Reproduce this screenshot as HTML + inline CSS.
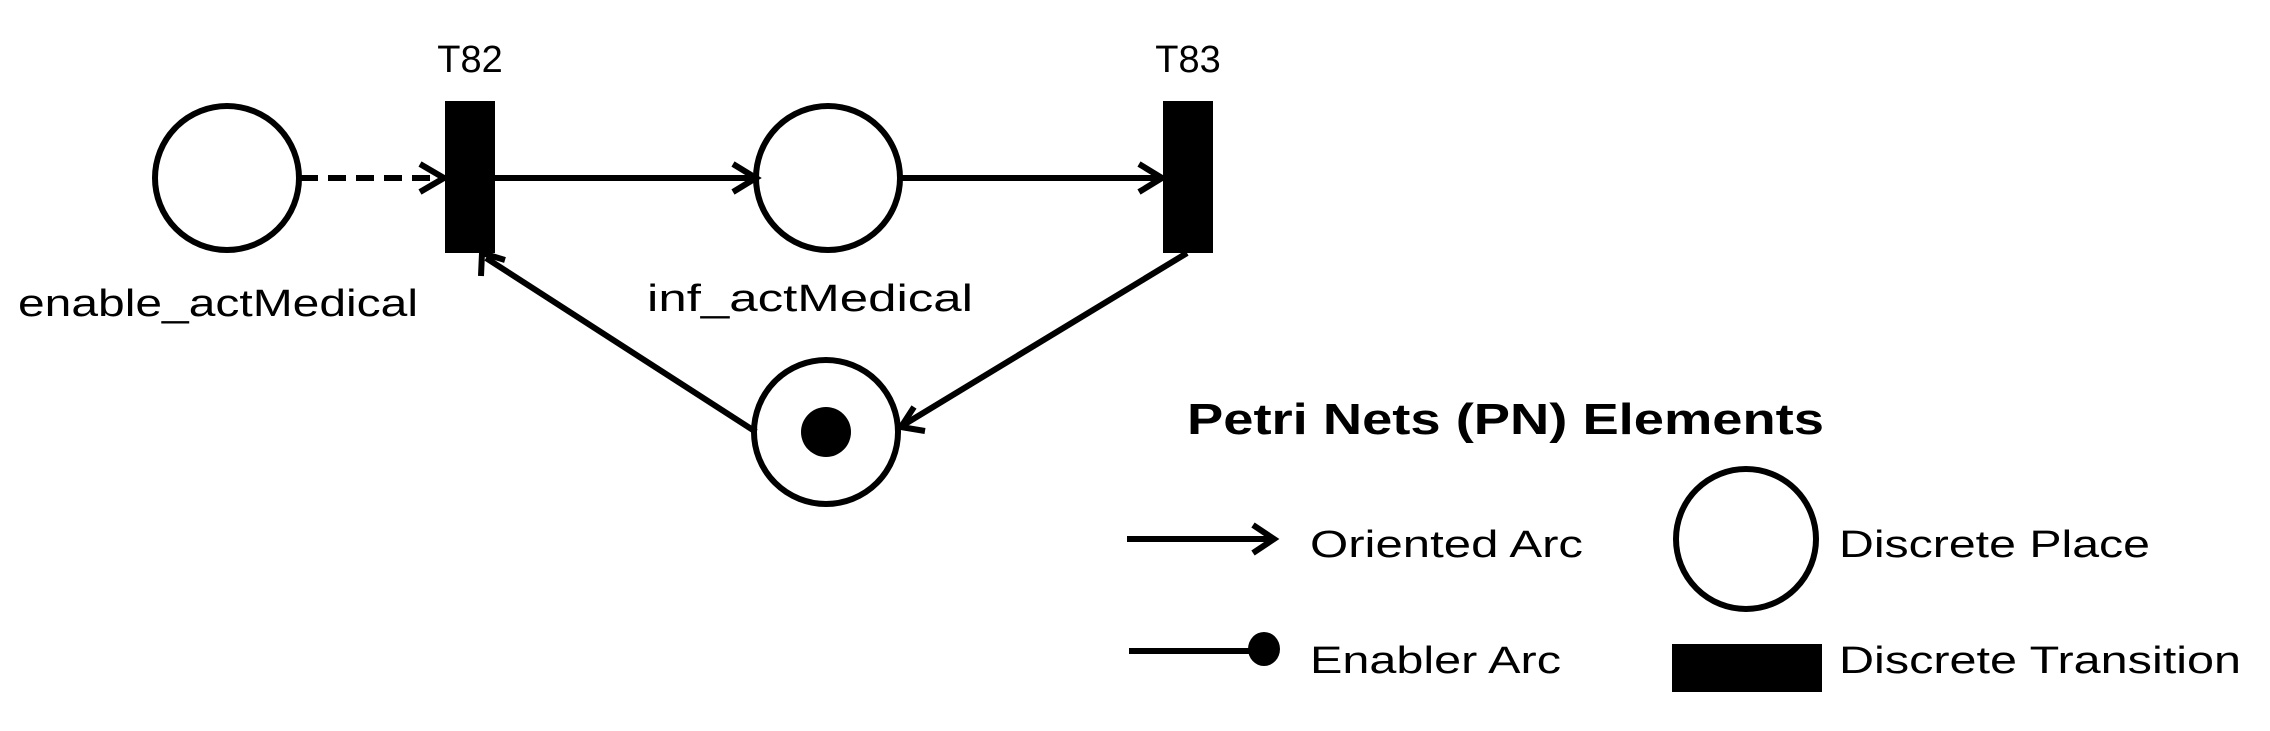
<!DOCTYPE html>
<html><head><style>html,body{margin:0;padding:0;background:#fff}svg{display:block}</style></head>
<body>
<svg width="2270" height="731" viewBox="0 0 2270 731" xmlns="http://www.w3.org/2000/svg" font-family="Liberation Sans, sans-serif">
<defs>
<marker id="a" markerWidth="12" markerHeight="12" refX="10" refY="6" orient="auto" markerUnits="userSpaceOnUse">
</marker>
</defs>
<g stroke="#000" stroke-width="6" fill="none">
<circle cx="227" cy="178" r="72"/>
<circle cx="828" cy="178" r="72"/>
<circle cx="826" cy="432" r="72"/>
<circle cx="1746" cy="539" r="70"/>
<line x1="300" y1="178" x2="440" y2="178" stroke-dasharray="18,10"/>
<line x1="495" y1="178" x2="752" y2="178"/>
<line x1="900" y1="178" x2="1158" y2="178"/>
<line x1="1187" y1="253" x2="905" y2="424"/>
<line x1="756" y1="432" x2="486" y2="258"/>
<line x1="1127" y1="539" x2="1272" y2="539"/>
<line x1="1129" y1="651" x2="1255" y2="651"/>
<!-- arrowheads -->
<polyline points="420,164 444,178 420,192"/>
<polyline points="733,164 756,178 733,192"/>
<polyline points="1139,164 1162,178 1139,192"/>
<polyline points="914,407 901,427 925,431"/>
<polyline points="481,276 482,253 505,260"/>
<polyline points="1253,525 1274,539 1253,553"/>
</g>
<rect x="445" y="101" width="50" height="152" fill="#000"/>
<rect x="1163" y="101" width="50" height="152" fill="#000"/>
<rect x="1672" y="644" width="150" height="48" fill="#000"/>
<circle cx="826" cy="432" r="25" fill="#000"/>
<ellipse cx="1264" cy="649" rx="16" ry="17" fill="#000"/>
<g font-size="38" fill="#000">
<text x="470" y="72" text-anchor="middle">T82</text>
<text x="1188" y="72" text-anchor="middle">T83</text>
<text x="18" y="316" textLength="400" lengthAdjust="spacingAndGlyphs">enable_actMedical</text>
<text x="647" y="311" textLength="326" lengthAdjust="spacingAndGlyphs">inf_actMedical</text>
<text x="1187" y="434" font-weight="bold" font-size="44" textLength="637" lengthAdjust="spacingAndGlyphs">Petri Nets (PN) Elements</text>
<text x="1310" y="557" textLength="273" lengthAdjust="spacingAndGlyphs">Oriented Arc</text>
<text x="1839" y="557" textLength="311" lengthAdjust="spacingAndGlyphs">Discrete Place</text>
<text x="1310" y="673" textLength="251" lengthAdjust="spacingAndGlyphs">Enabler Arc</text>
<text x="1839" y="673" textLength="402" lengthAdjust="spacingAndGlyphs">Discrete Transition</text>
</g>
</svg>
</body></html>
